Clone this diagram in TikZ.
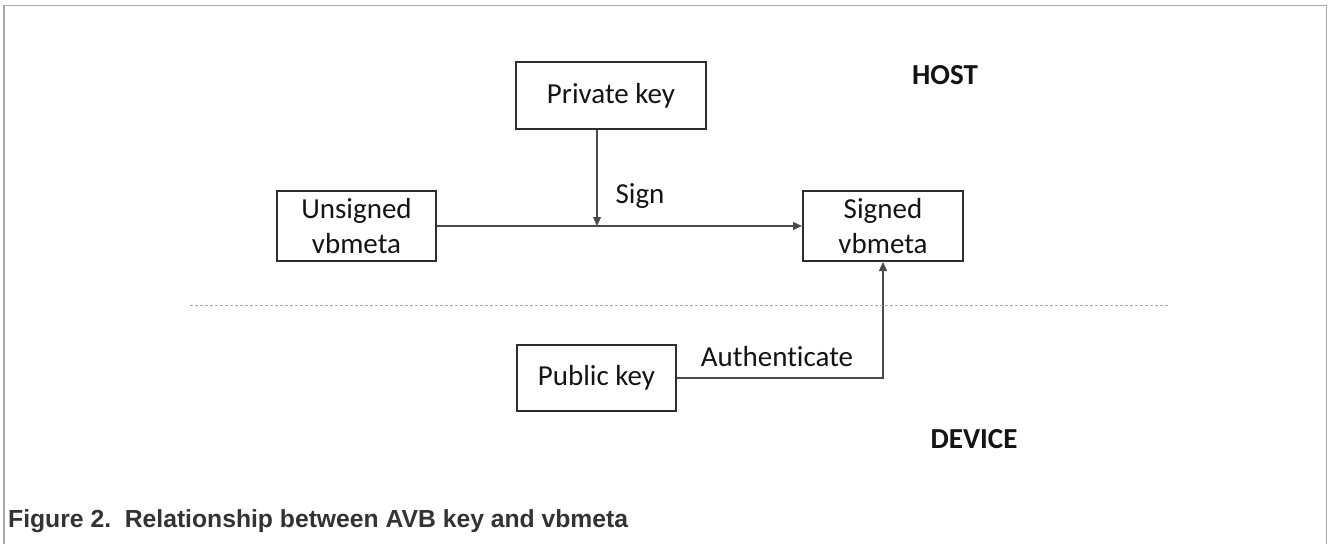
\documentclass[tikz,border=0pt]{standalone}
\usepackage{fontspec}
\setmainfont{Carlito}[Ligatures=NoCommon]
\newfontfamily\capfont{Liberation Sans}
\usetikzlibrary{arrows.meta}
\definecolor{framegrey}{HTML}{A8A8A8}
\definecolor{boxline}{HTML}{2E2E2E}
\definecolor{conline}{HTML}{4A4A4A}
\definecolor{txt}{HTML}{141414}
\definecolor{captxt}{HTML}{333333}
\tikzset{
  keybox/.style={draw=boxline, line width=2pt, inner sep=0pt, align=center,
    text=txt, font=\fontsize{29}{35}\selectfont},
  conn/.style={draw=conline, line width=1.3pt},
  arr/.style={conn, -{Triangle[length=9pt,width=8pt]}},
  lbl/.style={text=txt, font=\fontsize{29}{35}\selectfont, inner sep=0pt},
  zone/.style={text=txt, font=\fontsize{29}{33}\selectfont\bfseries, inner sep=0pt},
}
\begin{document}
\begin{tikzpicture}[x=1pt,y=-1pt]
\useasboundingbox (0,0) rectangle (1328,544);
\fill[white] (0,0) rectangle (1328,544);
% frame
\draw[framegrey, line width=1.5pt] (4,544) -- (4,5.5) -- (1326.5,5.5) -- (1326.5,544);
% boxes
\node[keybox, minimum width=190pt, minimum height=67pt] (private) at (611,95.5) {Private key};
\node[keybox, minimum width=159pt, minimum height=70pt] (unsigned) at (356.5,226) {Unsigned\\vbmeta};
\node[keybox, minimum width=160pt, minimum height=70pt] (signed) at (883,226) {Signed\\vbmeta};
\node[keybox, minimum width=159pt, minimum height=66pt] (public) at (596.5,378) {Public key};
% connectors
\coordinate (signfoot) at (597,226);
\draw[arr] (unsigned.east) -- (signed.west);
\draw[arr] (private.south -| signfoot) -- (signfoot);
\draw[arr] (public.east) -| (signed.south);
% labels
\node[lbl] (sign) at (640,196) {Sign};
\node[lbl] (auth) at (777,357) {Authenticate};
\node[zone] (host) at (945,75) {HOST};
\node[zone] (device) at (974,439) {DEVICE};
% separator
\coordinate (sepL) at (190,305);
\coordinate (sepR) at (1170,305);
\draw[framegrey, line width=1pt, dash pattern=on 3pt off 2pt] (sepL) -- (sepR);
% caption
\node[anchor=base west, inner sep=0pt, text=captxt, font=\capfont\bfseries\fontsize{24.7}{28}\selectfont] (caption) at (8,527) {Figure 2.\ \ Relationship between AVB key and vbmeta};
\end{tikzpicture}
\end{document}
